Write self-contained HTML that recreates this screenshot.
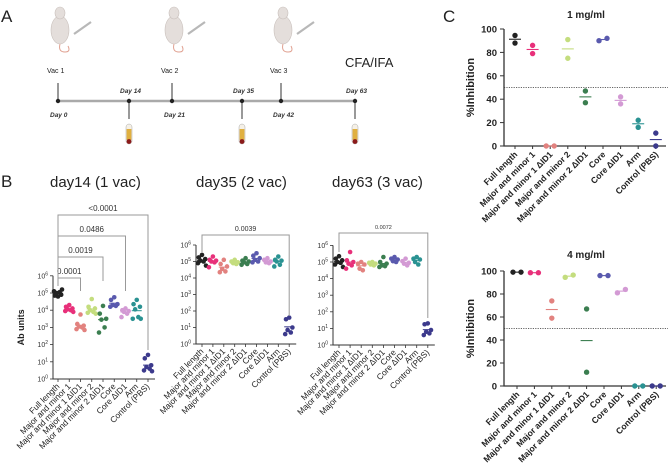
<!DOCTYPE html>
<html><head><meta charset="utf-8"><style>
body{margin:0;background:#fff;width:668px;height:472px;overflow:hidden;font-family:"Liberation Sans",sans-serif}
svg{display:block}
</style></head><body>
<svg id="fig" width="668" height="472" viewBox="0 0 668 472" font-family="Liberation Sans, sans-serif">
<g font-size="17" fill="#222">
<text x="1" y="22">A</text>
<text x="1" y="187">B</text>
<text x="443" y="22">C</text>
</g>
<g id="timeline">
<line x1="58" y1="101" x2="356" y2="101" stroke="#aaa" stroke-width="2.5"/>
<text x="345" y="67" font-size="13" fill="#222">CFA/IFA</text>
</g>
<g id="panelB"></g>
<g id="panelC"></g>
</svg>
<script>
const NS='http://www.w3.org/2000/svg';
function mk(p,tag,at,txt){const e=document.createElementNS(NS,tag);for(const k in at)e.setAttribute(k,at[k]);if(txt!==undefined)e.textContent=txt;p.appendChild(e);return e;}
const svg=document.getElementById('fig');
// ---------- Timeline ----------
const tl=document.getElementById('timeline');
const vacDays=['Vac 1','Vac  2','Vac 3'];
const vacX=[58,172,281];
const bleedDays=['Day 14','Day 35','Day 63'];
const bleedX=[129,242,355];
const vacDayLabels=['Day 0','Day 21','Day 42'];
vacX.forEach((x,i)=>{
  let l=mk(tl,'line',{x1:x,y1:83,x2:x,y2:101,stroke:'#333','stroke-width':1});
  
  let c=mk(tl,'circle',{cx:x,cy:101,r:2.2,fill:'#222'});
  
  let t=mk(tl,'text',{x:x-11,y:73,'font-size':7,fill:'#222'},vacDays[i]);
  
  let d=mk(tl,'text',{x:x-8,y:117,'font-size':6.5,'font-style':'italic','font-weight':'bold',fill:'#333'},vacDayLabels[i]);
  
  const mx=x+2;
  let g=mk(tl,'g',{});
  
  mk(g,'ellipse',{cx:mx,cy:30,rx:9,ry:14,fill:'#e4dedb',stroke:'#c9c0bc','stroke-width':0.6});
  mk(g,'ellipse',{cx:mx,cy:13,rx:5,ry:6,fill:'#e4dedb',stroke:'#c9c0bc','stroke-width':0.6});
  mk(g,'path',{d:`M${mx} 44 q-2 8 5 8 q6 0 3-6`,fill:'none',stroke:'#e0a090','stroke-width':1});
  let s=mk(tl,'line',{x1:x+16,y1:34,x2:x+33,y2:22,stroke:'#b8b8b8','stroke-width':2.2});
  
});
bleedX.forEach((x,i)=>{
  let l=mk(tl,'line',{x1:x,y1:101,x2:x,y2:119,stroke:'#333','stroke-width':1});
  
  let c=mk(tl,'circle',{cx:x,cy:101,r:2.2,fill:'#222'});
  
  let t=mk(tl,'text',{x:x-9,y:93,'font-size':6.5,'font-style':'italic','font-weight':'bold',fill:'#333'},bleedDays[i]);
  
  let g=mk(tl,'g',{});
  
  mk(g,'rect',{x:x-3,y:124,width:6,height:20,rx:3,fill:'#f5f0e6',stroke:'#aaa','stroke-width':0.5});
  mk(g,'rect',{x:x-2.4,y:129,width:4.8,height:11,fill:'#e0b040'});
  mk(g,'circle',{cx:x,cy:141.5,r:2.4,fill:'#8b1a1a'});
});

// ---------- Panel B ----------
const groups=['Full length','Major and minor 1','Major and minor 1 \u0394ID1','Major and minor 2','Major and minor 2 \u0394ID1','Core','Core \u0394ID1','Arm','Control (PBS)'];
const colors=['#222222','#e8307a','#e2827f','#c4dd7e','#3b7e50','#5a5aae','#d39ad4','#2a9292','#3c3a8c'];
const logTicks=[0,1,2,3,4,5,6];
const day14=[[4.8,4.85,4.9,5.0,5.05,5.1,5.2],[4.3,4.2,4.1,4.05,4.0,3.95,3.9],[3.75,3.2,3.1,3.05,3.0,2.9,2.85],[4.65,4.2,4.1,4.0,3.9,3.85,3.8],[4.25,3.8,3.5,3.45,3.0,2.7],[4.75,4.6,4.35,4.3,4.25,4.2],[4.1,4.0,3.95,3.9,3.8,3.6],[4.6,4.35,4.2,4.05,3.6,3.5,3.5],[1.4,1.2,0.8,0.7,0.6,0.5,0.45]];
const day35=[[5.4,5.25,5.15,5.05,5.0,4.9,4.75],[5.3,5.1,5.05,5.0,4.95,4.65],[5.1,4.85,4.7,4.55,4.4,4.35],[5.1,5.0,4.95,4.9,4.85],[5.2,5.05,5.0,4.95,4.85,4.8],[5.5,5.35,5.2,5.1,5.0,4.95],[5.2,5.1,5.0,4.95,4.9],[5.3,5.1,5.05,5.0,4.8,4.7],[1.6,1.5,1.0,0.85,0.7,0.6]];
const day63=[[5.35,5.2,5.1,5.0,4.95,4.85,4.7],[5.6,5.1,5.0,4.9,4.8,4.6],[5.0,4.9,4.85,4.6,4.5],[5.0,4.95,4.9,4.85,4.8],[5.3,5.0,4.9,4.8,4.75,4.7],[5.3,5.2,5.15,5.05,5.0],[5.2,5.05,4.95,4.9,4.8],[5.3,5.2,5.15,5.0,4.85],[1.3,1.25,0.9,0.8,0.7,0.6]];
const pvals14=['0.0001','0.0019','0.0486','<0.0001'];
const pTargets14=[2,4,6,8];
const pvals35=['0.0039'];const pvals63=['0.0072'];
const jit=[0,-3.2,3.2,-1.6,1.6,-4,4];
const B=document.getElementById('panelB');
function logPlot(cfg){
  const g=mk(B,'g',{});
  
  const X=i=>cfg.x0+i*cfg.dx, Y=v=>cfg.y0-v*cfg.dec;
  const yTop=Y(6);
  let t=mk(g,'text',{x:cfg.tx,y:187,'font-size':15,fill:'#222'},cfg.title);
  
  let ax=mk(g,'path',{d:`M${cfg.ax} ${yTop} V${cfg.y0} H${X(8)+7}`,fill:'none',stroke:'#333','stroke-width':1});
  
  logTicks.forEach(k=>{
    const y=Y(k);
    let tk=mk(g,'line',{x1:cfg.ax-3,y1:y,x2:cfg.ax,y2:y,stroke:'#333','stroke-width':0.8});
    
    let tx=mk(g,'text',{x:cfg.ax-5,y:y+2.5,'font-size':7,'text-anchor':'end',fill:'#333'});
    
    tx.appendChild(document.createTextNode('10'));
    mk(tx,'tspan',{dy:-3,'font-size':5},String(k));
  });
  groups.forEach((gname,i)=>{
    const x=X(i);
    let tk=mk(g,'line',{x1:x,y1:cfg.y0,x2:x,y2:cfg.y0+3,stroke:'#333','stroke-width':0.8});
    
    let lb=mk(g,'text',{x:x+2,y:cfg.y0+8,'font-size':8.4,'text-anchor':'end',fill:'#222',transform:`rotate(-45 ${x+2} ${cfg.y0+8})`},gname);
    
    const vals=cfg.data[i];
    const mean=vals.reduce((a,b)=>a+b,0)/vals.length;
    let m=mk(g,'line',{x1:x-5,y1:Y(mean),x2:x+5,y2:Y(mean),stroke:colors[i],'stroke-width':1});
    
    vals.forEach((v,j)=>{
      let c=mk(g,'circle',{cx:x+jit[j%jit.length],cy:Y(v),r:2.3,fill:colors[i]});
      
    });
  });
  cfg.brackets.forEach((b,k)=>{
    const x2=X(b.to);
    let p=mk(g,'path',{d:`M${X(0)} ${b.low0} V${b.y} H${x2} V${b.low1}`,fill:'none',stroke:'#999','stroke-width':1});
    
    let tx=mk(g,'text',{x:(X(0)+x2)/2,y:b.y-4,'font-size':b.fs,'text-anchor':'middle',fill:'#333'},b.label);
    
  });
  if(cfg.ylabel){let yl=mk(g,'text',{x:24,y:(yTop+cfg.y0)/2,'font-size':9,'font-weight':'bold','text-anchor':'middle',fill:'#222',transform:`rotate(-90 24 ${(yTop+cfg.y0)/2})`},cfg.ylabel);
  }
}
logPlot({name:'day14-plot',title:'day14 (1 vac)',tx:50,x0:58,dx:11.25,ax:53,y0:379,dec:17.2,data:day14,ylabel:'Ab units',
  brackets:[{label:pvals14[0],to:pTargets14[0],y:278,low0:286,low1:291,fs:8},{label:pvals14[1],to:pTargets14[1],y:257,low0:286,low1:281,fs:8},{label:pvals14[2],to:pTargets14[2],y:236,low0:286,low1:291,fs:8},{label:pvals14[3],to:pTargets14[3],y:215,low0:286,low1:350,fs:8}]});
logPlot({name:'day35-plot',title:'day35 (2 vac)',tx:196,x0:202,dx:10.9,ax:196,y0:344,dec:16.5,data:day35,
  brackets:[{label:pvals35[0],to:8,y:235,low0:252,low1:316,fs:7}]});
logPlot({name:'day63-plot',title:'day63 (3 vac)',tx:332,x0:339,dx:11.1,ax:333,y0:345,dec:16.6,data:day63,
  brackets:[{label:pvals63[0],to:8,y:233,low0:252,low1:318,fs:5.5}]});

// ---------- Panel C ----------
const C=document.getElementById('panelC');
const pctTicks=[0,20,40,60,80,100];
const inhib1=[[94.5,88],[86,79],[0,0],[91,75],[47,37],[90,92],[42,36],[22,16],[11,0]];
const inhib4=[[99,99],[98.5,98.5],[74,59],[94.5,96.5],[67,12],[96,96],[81,84],[0,0],[0,0]];
function pctPlot(cfg){
  const g=mk(C,'g',{});
  
  const X=i=>cfg.x0+i*cfg.dx, Y=v=>cfg.y0-v*(cfg.y0-cfg.y100)/100;
  let t=mk(g,'text',{x:586,y:cfg.ty,'font-size':10,'font-weight':'bold','text-anchor':'middle',fill:'#222'},cfg.title);
  
  let ax=mk(g,'path',{d:`M504 ${Y(100)} V${cfg.y0} H666`,fill:'none',stroke:'#333','stroke-width':1.3});
  
  let th=mk(g,'line',{x1:504,y1:Y(50),x2:668,y2:Y(50),stroke:'#333','stroke-width':0.8,'stroke-dasharray':'1.2 1.2'});
  
  pctTicks.forEach(v=>{
    let tk=mk(g,'line',{x1:500,y1:Y(v),x2:504,y2:Y(v),stroke:'#333','stroke-width':1});
    
    let tx=mk(g,'text',{x:497,y:Y(v)+3.5,'font-size':9.5,'font-weight':'bold','text-anchor':'end',fill:'#222'},String(v));
    
  });
  const ymid=(Y(100)+cfg.y0)/2;
  let yl=mk(g,'text',{x:474,y:ymid,'font-size':11,'font-weight':'bold','text-anchor':'middle',fill:'#222',transform:`rotate(-90 474 ${ymid})`},'%Inhibition');
  
  groups.forEach((gname,i)=>{
    const x=X(i);
    let tk=mk(g,'line',{x1:x,y1:cfg.y0,x2:x,y2:cfg.y0+3,stroke:'#333','stroke-width':1});
    
    let lb=mk(g,'text',{x:x+3,y:cfg.y0+9,'font-size':8.6,'font-weight':'bold','text-anchor':'end',fill:'#222',transform:`rotate(-45 ${x+3} ${cfg.y0+9})`},gname);
    
    const vals=cfg.data[i];
    const mean=(vals[0]+vals[1])/2;
    const close=Math.abs(vals[0]-vals[1])<4;
    let m=mk(g,'line',{x1:x-6,y1:Y(mean),x2:x+6,y2:Y(mean),stroke:colors[i],'stroke-width':1.1});
    
    vals.forEach((v,j)=>{
      const dx=close?(j?4:-4):0;
      let c=mk(g,'circle',{cx:x+dx,cy:Y(v),r:2.7,fill:colors[i]});
      
    });
  });
}
pctPlot({name:'inhibition-1mg-plot',title:'1 mg/ml',ty:18,x0:515,dx:17.6,y0:146,y100:29,data:inhib1});
pctPlot({name:'inhibition-4mg-plot',title:'4 mg/ml',ty:258,x0:517,dx:17.4,y0:386,y100:271,data:inhib4});
</script>
</body></html>
